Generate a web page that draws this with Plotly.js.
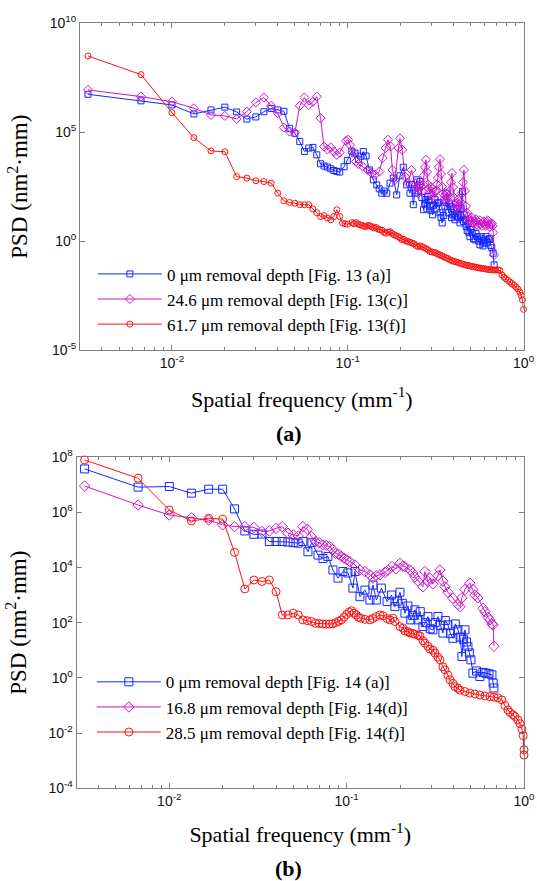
<!DOCTYPE html>
<html>
<head>
<meta charset="utf-8">
<script src="https://cdn.plot.ly/plotly-3.0.1.min.js"></script>
<style>html,body{margin:0;padding:0;background:#fff;}#chart{width:537px;height:881px;}</style>
</head>
<body>
<div id="chart"></div>
<script>
// ---------- Panel (a) data: spatial frequency (mm^-1) and PSD (nm^2·mm) ----------
const fA_blue = [0.00333,0.00667,0.01,0.01333,0.01667,0.02,0.02333,0.02667,0.03,0.03333,
0.03667,0.04,0.04333,0.04667,0.05,0.05333,0.05667,0.06,0.06333,0.06667,
0.07,0.07333,0.07667,0.08,0.08333,0.08667,0.09,0.0953,0.0995,0.1054,
0.110,0.1149,0.119,0.1226,0.1271,0.1327,0.1398,0.1462,0.151,0.1561,
0.161,0.1666,0.1739,0.1816,0.1898,0.1982,0.2069,0.2163,0.2259,0.231,
0.2359,0.241,0.2466,0.252,0.2575,0.264,0.270,0.274,0.2785,0.282,
0.2855,0.289,0.2935,0.298,0.3039,0.308,0.313,0.318,0.3236,0.329,
0.3345,0.339,0.3446,0.350,0.357,0.362,0.3669,0.375,0.379,0.3829,
0.389,0.395,0.401,0.4071,0.413,0.42,0.427,0.4346,0.438,0.442,
0.4494,0.455,0.46,0.466,0.4723,0.478,0.483,0.489,0.4953,0.502,
0.51,0.519,0.5288,0.537,0.545,0.555,0.5646,0.572,0.58,0.587,
0.5944,0.602,0.6107,0.62,0.6291,0.639,0.65,0.66,0.6714,0.68];
const psdA_blue = [5.5e6,2.75e6,1.78e6,6.9e5,1.05e6,1.41e6,8.5e5,3.98e5,5.0e5,8.7e5,
1.23e6,1.05e6,9.1e5,1.5e5,8.9e4,3.7e4,1.3e4,1.86e4,2.0e4,9.1e3,
3.55e3,2.8e3,2.5e3,2.1e3,1.74e3,1.58e3,1.48e3,2.6e3,5.0e3,1.35e4,
1.1e4,5.75e3,7.9e3,1.29e4,8.1e3,1.86e3,650,380,250,158,
200,158,460,780,132,1000,2450,380,158,400,
47,160,650,200,540,100,27.5,50,80,30,
112,70,40,25,16,45,80,30,55,60,
20,12,6.8,15,40,60,158,20,50,39,
12,16,30,9.5,14,32,12,6.8,15,32,
190,8,16,10,4.7,3,6.3,2.5,1.6,3.5,
2.5,1.3,1.15,2.2,1.6,1.0,0.68,1.6,1.26,0.6,
0.8,1.1,1.6,0.9,1.15,1.3,0.63,0.5,0.28,0.081];

const fA_mag = [0.00333,0.00667,0.01,0.01333,0.01667,0.02,0.02333,0.02667,0.03,0.03333,
0.03667,0.04,0.04333,0.04667,0.05,0.05333,0.05667,0.06,0.06333,0.06667,
0.07,0.07333,0.07667,0.08,0.08333,0.08667,0.09,0.0978,0.1004,0.103,
0.1065,0.1115,0.115,0.122,0.1298,0.1368,0.1429,0.1512,0.158,0.164,
0.1694,0.175,0.1795,0.1857,0.194,0.1982,0.204,0.2116,0.2208,0.2305,
0.2412,0.2462,0.2512,0.2543,0.2575,0.2609,0.2643,0.2678,0.2713,0.275,
0.2785,0.282,0.2859,0.2897,0.2935,0.2974,0.3013,0.3053,0.3093,0.3134,
0.3175,0.3217,0.3259,0.33,0.3345,0.339,0.3434,0.348,0.3525,0.357,
0.3618,0.3666,0.3714,0.3763,0.3813,0.386,0.3914,0.3966,0.4018,0.407,
0.4124,0.418,0.4234,0.429,0.4346,0.44,0.4461,0.452,0.458,0.464,
0.4701,0.476,0.4825,0.489,0.4953,0.502,0.5085,0.515,0.5219,0.529,
0.5358,0.543,0.5499,0.557,0.5646,0.572,0.5795,0.587,0.5948,0.603,
0.6107,0.619,0.6269,0.635,0.6435,0.652,0.6605,0.666,0.672,0.68];
const psdA_mag = [8.7e6,4.3e6,2.5e6,1.26e6,6.2e5,5.6e5,4.1e5,8.7e5,2.3e6,3.9e6,
1.62e6,7.4e5,1.62e5,1.07e5,9.5e4,1.62e6,3.9e6,1.78e6,2.5e6,4.3e6,
4.4e5,2.2e4,1.62e4,2.0e4,1.3e4,9.1e3,1.15e4,4.0e4,4.5e4,2.6e4,
1.15e4,4.5e3,3.4e3,2.6e3,1.86e3,1.32e3,1.1e3,1.55e3,6.5e3,1.86e4,
4.5e4,2.2e4,1.86e3,650,1.86e4,5.2e4,1.55e4,910,460,1.86e3,
460,300,158,250,400,320,200,400,1000,2500,
5400,1500,400,250,158,300,250,130,100,200,
200,400,790,2500,5800,1200,316,150,79,120,
158,100,63,120,200,500,1320,300,100,50,
32,60,79,40,25,60,158,500,1860,200,
40,20,14,10,8,9,12,7,6,8,
10,6,5,7,9,6,5,7,8,5.5,
5,7.5,9,6,4.5,6,6.5,5,2.5,0.23];

const fA_red = [0.00333,0.00667,0.01,0.01333,0.01667,0.02,0.02333,0.02667,0.03,0.03333,
0.03667,0.04,0.04333,0.04667,0.05,0.05333,0.05667,0.06,0.06333,0.06667,
0.07,0.07333,0.07667,0.08,0.08333,0.08667,0.09,0.09333,0.09667,0.1,
0.1058,0.1086,0.1115,0.1144,0.1175,0.1206,0.1238,0.1271,0.1304,0.1339,
0.1374,0.141,0.1448,0.1487,0.1526,0.1566,0.1608,0.165,0.1694,0.1739,
0.1785,0.1832,0.188,0.193,0.1982,0.2034,0.2088,0.2144,0.2201,0.2259,
0.2318,0.238,0.2443,0.2508,0.2575,0.2643,0.2713,0.2785,0.2859,0.2935,
0.3013,0.3093,0.3175,0.3259,0.3345,0.3434,0.3525,0.3618,0.3714,0.3813,
0.3914,0.4018,0.4124,0.4234,0.4346,0.4461,0.458,0.4701,0.4825,0.4953,
0.5085,0.5219,0.5358,0.5499,0.5646,0.5795,0.5948,0.6107,0.6269,0.6435,
0.6605,0.678,0.696,0.7145,0.7333,0.7527,0.7727,0.7931,0.8142,0.836,
0.858,0.881,0.904,0.928,0.953,0.97,0.985,1.0];
const psdA_red = [3.16e8,4.4e7,7.9e5,5.6e4,1.38e4,1.26e4,910,780,590,540,
460,158,71,59,55,47,47,47,30,20,
13.5,14.8,11.5,9.5,13.5,27.5,13.5,6.8,6.3,6.0,
7.1,6.3,7.1,6.0,5.6,5.2,4.8,4.7,5.2,5.0,
4.5,4.0,4.2,3.55,3.3,3.16,2.5,2.3,2.6,2.7,
2.24,1.95,1.78,1.62,1.41,1.15,1.2,1.0,0.95,0.89,
0.81,0.76,0.63,0.56,0.6,0.56,0.5,0.45,0.4,0.33,
0.32,0.30,0.28,0.25,0.23,0.21,0.19,0.17,0.16,0.138,
0.126,0.117,0.11,0.105,0.095,0.091,0.085,0.079,0.076,0.072,
0.069,0.066,0.063,0.060,0.058,0.056,0.054,0.052,0.050,0.049,
0.048,0.048,0.047,0.048,0.045,0.028,0.022,0.019,0.0158,0.0132,
0.0112,0.0095,0.0079,0.0063,0.0045,0.0032,0.002,7.4e-4];

// ---------- Panel (b) data ----------
const fB_blue = [0.00333,0.00667,0.01,0.01333,0.01667,0.02,0.02333,0.02667,0.03,0.03333,
0.03667,0.04,0.04333,0.04667,0.05,0.05333,0.05667,0.0605,0.0637,0.0689,
0.0735,0.0784,0.0837,0.0894,0.0953,0.1017,0.1085,0.1114,0.1189,0.1268,
0.1353,0.1407,0.147,0.157,0.169,0.179,0.1872,0.193,0.1998,0.206,
0.2132,0.2216,0.23,0.236,0.2427,0.2523,0.26,0.2692,0.278,0.2873,
0.296,0.3066,0.316,0.3272,0.338,0.3491,0.36,0.3725,0.385,0.3975,
0.41,0.4242,0.436,0.4468,0.455,0.4645,0.474,0.483,0.492,0.502,
0.5153,0.54,0.5643,0.5867,0.61,0.635,0.6594,0.67,0.6767];
const psdB_blue = [3.7e7,8.1e6,8.5e6,4.9e6,6.8e6,6.8e6,1.32e6,2.1e5,1.58e5,1.62e5,
8.7e4,8.7e4,8.7e4,8.3e4,7.9e4,7.6e4,8.7e4,3.7e4,7.9e4,2.8e4,
2.1e4,2.5e4,8.1e3,4.1e3,7.1e3,6.3e3,1.78e3,7.1e3,870,1.51e3,
660,2.3e3,660,1.78e3,580,1.0e3,380,600,1.26e3,500,
220,400,126,180,290,126,250,72,100,166,
60,55,100,166,80,42,120,83,40,27,
90,55,30,5.9,25,55,20,13.5,8,4.5,
1.48,1.78,1.12,1.58,1.48,1.41,1.29,0.65,0.43];

const fB_mag = [0.00333,0.00667,0.01,0.01333,0.01667,0.02,0.02333,0.02667,0.03,0.03333,
0.03667,0.04,0.04333,0.04667,0.05,0.05333,0.05667,0.06,0.06333,0.06667,
0.07,0.07333,0.07667,0.08,0.08333,0.08667,0.09,0.09333,0.09667,0.1,
0.1044,0.1114,0.1189,0.1268,0.1353,0.1407,0.147,0.1541,0.1644,0.171,
0.18,0.19,0.1998,0.2077,0.2132,0.2275,0.2365,0.2427,0.2523,0.2692,
0.2763,0.2873,0.2949,0.3066,0.3272,0.3358,0.3491,0.3582,0.3725,0.3975,
0.4242,0.4353,0.4468,0.4645,0.4957,0.5153,0.5288,0.5498,0.5867,0.6021,
0.626,0.6425,0.6594,0.67,0.6767];
const psdB_mag = [8.9e6,1.82e6,7.9e5,6.3e5,5.2e5,3.5e5,3.0e5,3.0e5,2.8e5,2.0e5,
2.1e5,2.6e5,3.0e5,1.74e5,1.51e5,1.38e5,3.0e5,2.4e5,1.32e5,8.7e4,
7.9e4,6.6e4,6.3e4,5.8e4,4.5e4,3.2e4,3.0e4,2.5e4,2.2e4,1.9e4,
1.62e4,1.23e4,8.1e3,7.1e3,5.4e3,4.1e3,5.0e3,5.4e3,6.6e3,7.9e3,
1.07e4,8.9e3,1.41e4,1.12e4,1.07e4,8.1e3,6.3e3,4.5e3,3.2e3,2.0e3,
7.1e3,3.1e3,4.0e3,2.5e3,5.0e3,8.1e3,3.2e3,2.0e3,1.26e3,760,
450,380,790,1.58e3,2.7e3,1.58e3,1.0e3,790,330,250,
158,126,89,83,14];

const fB_red = [0.00333,0.00667,0.01,0.01333,0.01667,0.02,0.02333,0.02667,0.03,0.03333,
0.03667,0.04,0.04333,0.04667,0.05,0.05333,0.05667,0.06,0.06333,0.06667,
0.07,0.07333,0.07667,0.08,0.08333,0.08667,0.09,0.09333,0.09667,0.1,
0.10333,0.10667,0.11,0.11333,0.11667,0.12,0.1268,0.1353,0.1407,0.147,
0.1541,0.1602,0.169,0.1755,0.1824,0.1872,0.1998,0.2077,0.2132,0.2216,
0.2275,0.2365,0.2427,0.2523,0.259,0.2692,0.2763,0.2873,0.2949,0.3066,
0.3147,0.3272,0.3358,0.3491,0.3582,0.3725,0.3823,0.3975,0.408,0.4242,
0.4353,0.4645,0.4957,0.5288,0.5643,0.6021,0.6425,0.6767,0.713,0.7508,
0.7806,0.8116,0.8329,0.8663,0.8888,0.924,0.9484,0.9734,0.99,1.0,
1.0];
const psdB_red = [7.8e7,1.7e7,1.2e6,4.8e5,6.0e5,5.6e5,3.5e4,1.66e3,3.5e3,3.1e3,
3.5e3,1.32e3,190,190,220,190,126,117,110,95,
93,89,89,89,91,100,112,126,158,200,
240,270,220,190,158,145,132,126,141,166,
190,178,141,126,145,110,72,63,50,47,
42,40,38,35,33,22,18,14,11,10,
7.9,5.6,4.5,2.5,1.95,1.26,0.85,0.63,0.48,0.42,
0.36,0.32,0.28,0.26,0.24,0.22,0.21,0.20,0.19,0.158,
0.1,0.069,0.056,0.046,0.04,0.03,0.022,0.014,0.008,0.0025,
0.0016];

// ---------- Labels ----------
const namesA = ['0 μm removal depth [Fig. 13 (a)]', '24.6 μm removal depth [Fig. 13(c)]', '61.7 μm removal depth [Fig. 13(f)]'];
const namesB = ['0 μm removal depth [Fig. 14 (a)]', '16.8 μm removal depth [Fig. 14(d)]', '28.5 μm removal depth [Fig. 14(f)]'];
const xTickVals = [0.01, 0.1, 1];
const xTickText = ['10<sup>-2</sup>', '10<sup>-1</sup>', '10<sup>0</sup>'];
const xMinorVals = [0.004,0.005,0.006,0.007,0.008,0.009,0.02,0.03,0.04,0.05,0.06,0.07,0.08,0.09,0.2,0.3,0.4,0.5,0.6,0.7,0.8,0.9];
const yTickValsA = [1e-5, 1, 1e5, 1e10];
const yTickTextA = ['10<sup>-5</sup>', '10<sup>0</sup>', '10<sup>5</sup>', '10<sup>10</sup>'];
const yTickValsB = [1e-4, 1e-2, 1, 1e2, 1e4, 1e6, 1e8];
const yTickTextB = ['10<sup>-4</sup>', '10<sup>-2</sup>', '10<sup>0</sup>', '10<sup>2</sup>', '10<sup>4</sup>', '10<sup>6</sup>', '10<sup>8</sup>'];

const BLUE = '#1428ff', MAG = '#cc14cc', RED = '#ff1010';
const SERIF = 'Liberation Serif, Times New Roman, serif';
const SANS = 'Liberation Sans, Arial, sans-serif';

function tr(x, y, name, color, symbol, size, xa, ya, leg) {
  return {
    x: x, y: y, name: name, type: 'scatter', mode: 'lines+markers',
    xaxis: xa, yaxis: ya, legend: leg, cliponaxis: false,
    line: {color: color, width: 1},
    marker: {symbol: symbol, size: size, color: color, line: {color: color, width: 1}}
  };
}

const data = [
  tr(fA_blue, psdA_blue, namesA[0], BLUE, 'square-open', 6, 'x', 'y', 'legend'),
  tr(fA_mag, psdA_mag, namesA[1], MAG, 'diamond-open', 7, 'x', 'y', 'legend'),
  tr(fA_red, psdA_red, namesA[2], RED, 'circle-open', 6, 'x', 'y', 'legend'),
  tr(fB_blue, psdB_blue, namesB[0], BLUE, 'square-open', 8, 'x2', 'y2', 'legend2'),
  tr(fB_mag, psdB_mag, namesB[1], MAG, 'diamond-open', 8, 'x2', 'y2', 'legend2'),
  tr(fB_red, psdB_red, namesB[2], RED, 'circle-open', 8, 'x2', 'y2', 'legend2')
];

const axCommon = {
  type: 'log', showline: true, linecolor: '#808080', linewidth: 1, mirror: 'ticks',
  ticks: 'inside', ticklen: 5, tickcolor: '#808080', showgrid: false, zeroline: false,
  tickfont: {family: SANS, size: 14, color: '#111'}, tickmode: 'array'
};
function xAxis(domain, anchor, standoff) {
  return Object.assign({}, axCommon, {
    domain: domain, anchor: anchor, range: [Math.log10(0.003), 0],
    tickvals: xTickVals, ticktext: xTickText,
    minor: {tickmode: 'array', tickvals: xMinorVals, ticks: 'inside', ticklen: 3, tickcolor: '#808080', showgrid: false},
    title: {text: 'Spatial frequency (mm<sup>-1</sup>)', font: {family: SERIF, size: 22, color: '#000'}, standoff: standoff}
  });
}
function yAxis(domain, anchor, range, vals, text) {
  return Object.assign({}, axCommon, {
    domain: domain, anchor: anchor, range: range, tickvals: vals, ticktext: text,
    title: {text: 'PSD (nm<sup>2</sup>·mm)', font: {family: SERIF, size: 23, color: '#000'}, standoff: 15}
  });
}
const legendCommon = {
  xanchor: 'left', yanchor: 'top', bgcolor: 'rgba(0,0,0,0)', borderwidth: 0,
  font: {family: SERIF, size: 17, color: '#000'}, tracegroupgap: 0, itemwidth: 64
};

const layout = {
  width: 537, height: 881, margin: {l: 0, r: 0, t: 0, b: 0},
  paper_bgcolor: '#fff', plot_bgcolor: '#fff', showlegend: true,
  xaxis: xAxis([0.149, 0.975], 'y', 21),
  yaxis: yAxis([0.6027, 0.9736], 'x', [-5, 10], yTickValsA, yTickTextA),
  xaxis2: xAxis([0.1425, 0.9758], 'y2', 18),
  yaxis2: yAxis([0.1052, 0.4813], 'x2', [-4, 8], yTickValsB, yTickTextB),
  legend: Object.assign({}, legendCommon, {x: 0.173, y: 0.709}),
  legend2: Object.assign({}, legendCommon, {x: 0.171, y: 0.246}),
  annotations: [
    {text: '<b>(a)</b>', xref: 'paper', yref: 'paper', x: 0.538, y: 1 - 433/881, xanchor: 'center', yanchor: 'middle', showarrow: false, font: {family: SERIF, size: 22, color: '#000'}},
    {text: '<b>(b)</b>', xref: 'paper', yref: 'paper', x: 0.538, y: 1 - 868/881, xanchor: 'center', yanchor: 'middle', showarrow: false, font: {family: SERIF, size: 22, color: '#000'}}
  ]
};

Plotly.newPlot('chart', data, layout, {displayModeBar: false, staticPlot: true});
</script>
</body>
</html>
